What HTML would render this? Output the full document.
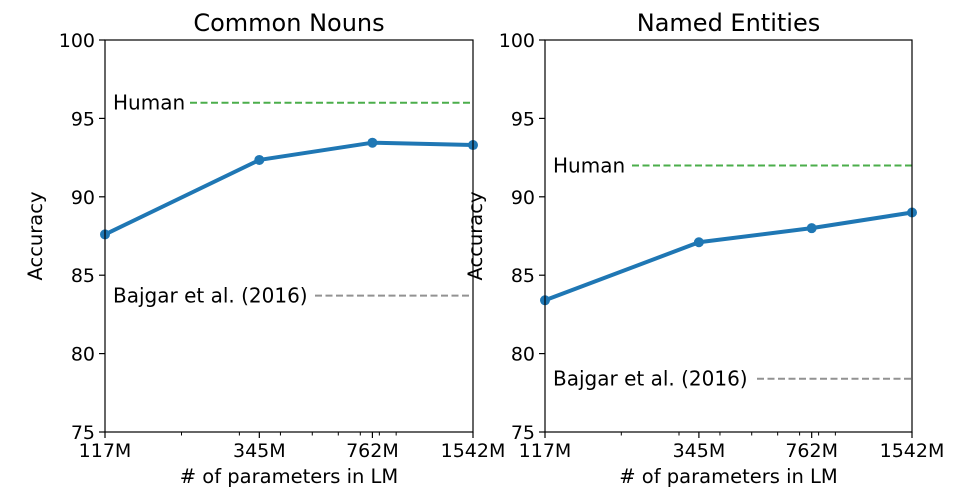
<!DOCTYPE html>
<html><head><meta charset="utf-8"><style>
body{margin:0;background:#fff;}
svg{display:block;font-family:"DejaVu Sans","Liberation Sans",sans-serif;}
</style></head><body>
<svg id="chart" width="972" height="502"></svg>
<script>
const xTicks = [117, 345, 762, 1542];
const xTickLabels = ["117M", "345M", "762M", "1542M"];
const minorTicks = [200, 300, 400, 500, 600, 700, 800, 900];
const yTicks = [75, 80, 85, 90, 95, 100];
const titles = ["Common Nouns", "Named Entities"];
const valuesNouns = [87.6, 92.35, 93.45, 93.3];
const valuesEntities = [83.4, 87.1, 88.0, 89.0];
const humanVals = [96, 92];
const bajgarVals = [83.7, 78.4];
const series = [valuesNouns, valuesEntities];

const NS = "http://www.w3.org/2000/svg";
const svg = document.getElementById("chart");
function mk(tag, attrs, parent) {
  const e = document.createElementNS(NS, tag);
  for (const k in attrs) e.setAttribute(k, attrs[k]);
  (parent || svg).appendChild(e);
  return e;
}
const panels = [
  {x0: 105, x1: 473, human: [190, 473], hLabel: 113, baj: [315, 473], bLabel: 113, ylab: 42},
  {x0: 545, x1: 912, human: [632, 912], hLabel: 553, baj: [757, 912], bLabel: 553, ylab: 482}
];
const y0 = 40, y1 = 432;
panels.forEach((p, i) => {
  const g = mk("g", {});
  
  
  const lmin = Math.log10(117), lmax = Math.log10(1542);
  const X = v => p.x0 + (Math.log10(v) - lmin) / (lmax - lmin) * (p.x1 - p.x0);
  const Y = v => y1 - (v - 75) / 25 * (y1 - y0);
  const hl = mk("line", {x1: p.human[0], x2: p.human[1], y1: Y(humanVals[i]), y2: Y(humanVals[i]), stroke: "#2ca02c", "stroke-width": 2, "stroke-dasharray": "7,3.5", opacity: 0.85}, g);
  
  
  const ht = mk("text", {x: p.hLabel, y: Y(humanVals[i]) + 7, "font-size": 20, fill: "#000"}, g);
  ht.textContent = "Human";
  
  
  const bl = mk("line", {x1: p.baj[0], x2: p.baj[1], y1: Y(bajgarVals[i]), y2: Y(bajgarVals[i]), stroke: "#7f7f7f", "stroke-width": 2, "stroke-dasharray": "7,3.5", opacity: 0.85}, g);
  
  
  const bt = mk("text", {x: p.bLabel, y: Y(bajgarVals[i]) + 7, "font-size": 20, fill: "#000"}, g);
  bt.textContent = "Bajgar et al. (2016)";
  
  
  const pts = series[i].map((v, j) => X(xTicks[j]) + "," + Y(v)).join(" ");
  const pl = mk("polyline", {points: pts, fill: "none", stroke: "#1f77b4", "stroke-width": 4, "stroke-linejoin": "round"}, g);
  
  
  series[i].forEach((v, j) => {
    const c = mk("circle", {cx: X(xTicks[j]), cy: Y(v), r: 5, fill: "#1f77b4"}, g);
    
    
  });
  const fr = mk("rect", {x: p.x0, y: y0, width: p.x1 - p.x0, height: y1 - y0, fill: "none", stroke: "#000", "stroke-width": 1.2}, g);
  
  
  yTicks.forEach(t => {
    mk("line", {x1: p.x0 - 6, x2: p.x0, y1: Y(t), y2: Y(t), stroke: "#000", "stroke-width": 1.2}, g);
    const tt = mk("text", {x: p.x0 - 10, y: Y(t) + 7, "font-size": 19, "text-anchor": "end"}, g);
    tt.textContent = t;
    
    
  });
  xTicks.forEach((t, j) => {
    mk("line", {x1: X(t), x2: X(t), y1: y1, y2: y1 + 6, stroke: "#000", "stroke-width": 1.2}, g);
    const tt = mk("text", {x: X(t), y: y1 + 25, "font-size": 19, "text-anchor": "middle"}, g);
    tt.textContent = xTickLabels[j];
    
    
  });
  minorTicks.forEach(t => {
    mk("line", {x1: X(t), x2: X(t), y1: y1, y2: y1 + 3.5, stroke: "#000", "stroke-width": 1}, g);
  });
  const xl = mk("text", {x: (p.x0 + p.x1) / 2, y: 483, "font-size": 19.5, "text-anchor": "middle"}, g);
  xl.textContent = "# of parameters in LM";
  
  
  const yl = mk("text", {x: 0, y: 0, "font-size": 19.5, "text-anchor": "middle", transform: `translate(${p.ylab},${(y0 + y1) / 2}) rotate(-90)`}, g);
  yl.textContent = "Accuracy";
  
  
  const ti = mk("text", {x: (p.x0 + p.x1) / 2, y: 31, "font-size": 24, "text-anchor": "middle"}, g);
  ti.textContent = titles[i];
  
  
});
</script>
</body></html>
